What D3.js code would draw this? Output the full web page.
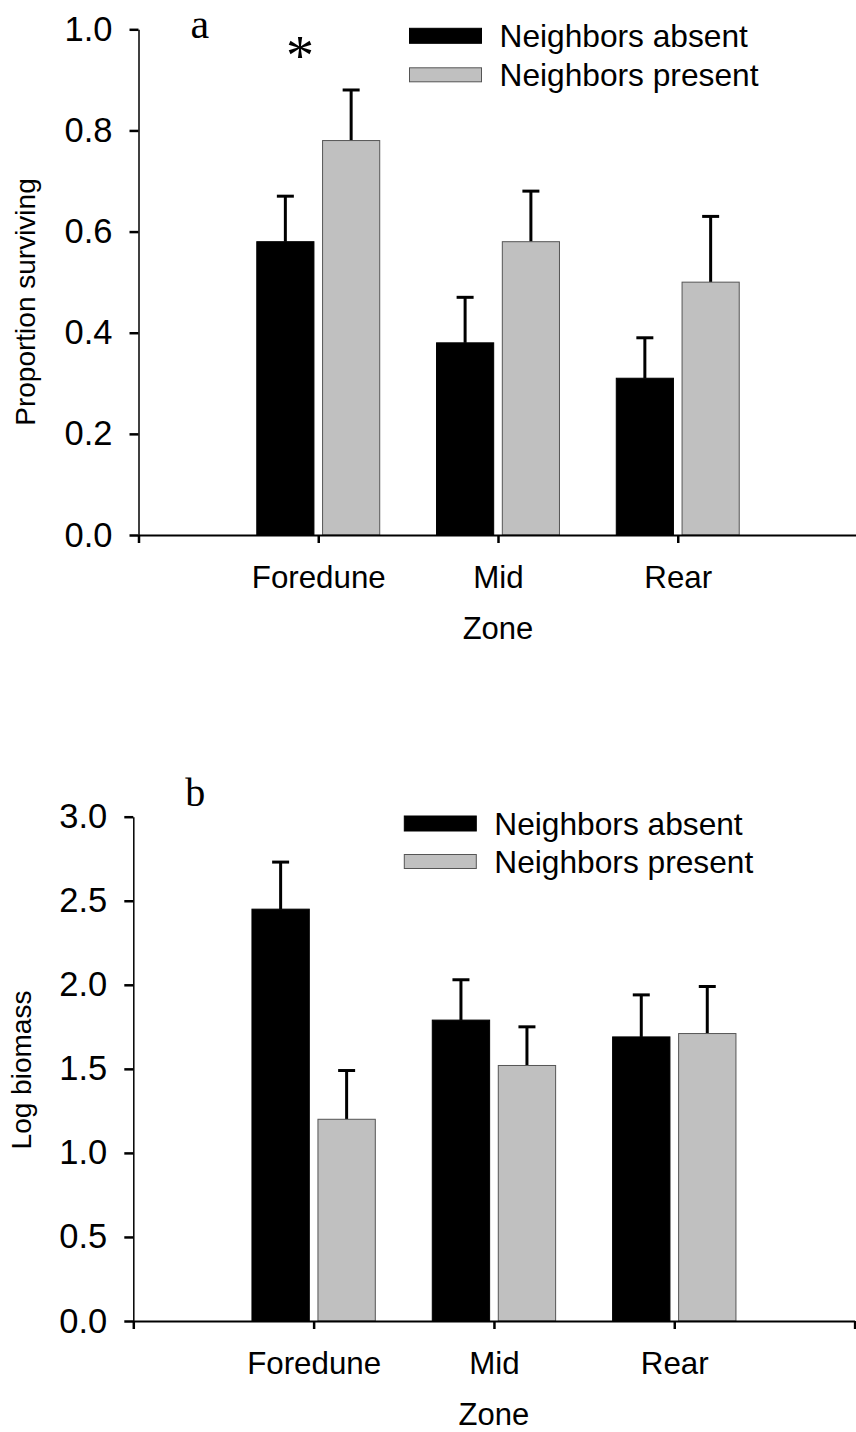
<!DOCTYPE html>
<html lang="en">
<head>
  <meta charset="UTF-8" />
  <title>Survival and biomass by zone</title>
  <style>
    body { margin: 0; padding: 0; background: #fff; }
    svg { display: block; }
    text { font-family: "Liberation Sans", Arial, sans-serif; fill: #000; }
    .serif { font-family: "Liberation Serif", "Times New Roman", serif; }
  </style>
  <script src="https://d3js.org/d3.v7.min.js"></script>
</head>
<body>
<svg id="chart" width="856" height="1432"></svg>

<script>
// data
const zones = ["Foredune", "Mid", "Rear"];
const seriesNames = ["Neighbors absent", "Neighbors present"];

const survAbsent = [0.58, 0.38, 0.31];
const survAbsentSE = [0.09, 0.09, 0.08];
const survPresent = [0.78, 0.58, 0.50];
const survPresentSE = [0.10, 0.10, 0.13];
const survTicks = [0, 0.2, 0.4, 0.6, 0.8, 1.0];

const bioAbsent = [2.45, 1.79, 1.69];
const bioAbsentSE = [0.28, 0.24, 0.25];
const bioPresent = [1.20, 1.52, 1.71];
const bioPresentSE = [0.29, 0.23, 0.28];
const bioTicks = [0, 0.5, 1.0, 1.5, 2.0, 2.5, 3.0];

const fills = ["#000", "#c0c0c0"];
const strokes = ["#000", "#555"];

const svg = d3.select("#chart");

function drawPanel(p) {
  const g = svg.append("g");
  const x = d3.scaleLinear().domain([0, 4]).range([p.left, p.right]);
  const y = d3.scaleLinear().domain([0, p.ymax]).range([p.bottom, p.top]);

  const barW = 0.318, gap = 0.024;
  const series = [
    { vals: p.absent, se: p.absentSE, off: -gap - barW },
    { vals: p.present, se: p.presentSE, off: gap }
  ];

  series.forEach((s, si) => {
    const data = zones.map((z, i) => ({ c: i + 1, v: s.vals[i], e: s.se[i] }));
    const cx = d => x(d.c + s.off + barW / 2);

    // error bars (upper only) behind the bars
    g.selectAll(null).data(data).enter().append("line")
      .attr("x1", cx).attr("x2", cx)
      .attr("y1", d => y(d.v)).attr("y2", d => y(d.v + d.e))
      .attr("stroke", "#000").attr("stroke-width", 3);
    g.selectAll(null).data(data).enter().append("line")
      .attr("x1", d => cx(d) - 8.5).attr("x2", d => cx(d) + 8.5)
      .attr("y1", d => y(d.v + d.e)).attr("y2", d => y(d.v + d.e))
      .attr("stroke", "#000").attr("stroke-width", 3);

    g.selectAll(null).data(data).enter().append("rect")
      .attr("x", d => x(d.c + s.off))
      .attr("width", x(barW) - x(0))
      .attr("y", d => y(d.v))
      .attr("height", d => y(0) - y(d.v))
      .attr("fill", fills[si])
      .attr("stroke", strokes[si])
      .attr("stroke-width", 1);
  });

  // y axis
  const yAx = g.append("g")
    .attr("transform", `translate(${p.left},0)`)
    .call(d3.axisLeft(y).tickValues(p.ticks).tickFormat(d3.format(".1f"))
      .tickSize(9).tickPadding(17).tickSizeOuter(0));
  yAx.select(".domain").attr("stroke-width", 1.5);
  yAx.selectAll(".tick line").attr("stroke-width", 2.5);
  yAx.selectAll("text").style("font-size", "34.5px")
    .style("font-family", '"Liberation Sans", Arial, sans-serif');

  // x axis
  const xAx = g.append("g")
    .attr("transform", `translate(0,${p.bottom})`)
    .call(d3.axisBottom(x).tickValues([0, 1, 2, 3, 4])
      .tickFormat(d => zones[d - 1] || "").tickSize(8).tickSizeOuter(0));
  xAx.select(".domain").attr("stroke-width", 2);
  xAx.selectAll(".tick line").attr("stroke-width", 2.5);
  xAx.selectAll("text").attr("y", 53).attr("dy", 0).style("font-size", "31.3px")
    .style("font-family", '"Liberation Sans", Arial, sans-serif');

  g.append("text")
    .attr("x", x(2)).attr("y", p.bottom + 104)
    .attr("text-anchor", "middle").style("font-size", "31px")
    .text("Zone");

  g.append("text")
    .attr("transform", `translate(${p.ylabX},${p.ylabY}) rotate(-90)`)
    .attr("text-anchor", "middle").style("font-size", "28px")
    .text(p.ylabel);

  g.append("text").attr("class", "serif")
    .attr("x", p.left + 52).attr("y", p.letterY)
    .style("font-size", p.letterSize + "px")
    .text(p.letter);

  // legend
  const lg = g.append("g").attr("transform", `translate(${p.left + 271},${p.legendY})`);
  seriesNames.forEach((name, i) => {
    lg.append("rect")
      .attr("x", 0).attr("y", i === 0 ? 0 : p.legendStep + 0.5)
      .attr("width", 72).attr("height", i === 0 ? 15 : 14)
      .attr("fill", fills[i]).attr("stroke", strokes[i]).attr("stroke-width", 1);
    lg.append("text")
      .attr("x", 90).attr("y", 18.5 + i * p.legendStep)
      .style("font-size", "31.7px")
      .text(name);
  });

  return { g, x, y };
}

const a = drawPanel({
  left: 138.5, right: 857.5, top: 29.3, bottom: 535, ymax: 1.0,
  ticks: survTicks, absent: survAbsent, absentSE: survAbsentSE,
  present: survPresent, presentSE: survPresentSE,
  ylabel: "Proportion surviving", ylabX: 35, ylabY: 302,
  letter: "a", letterY: 38, letterSize: 42,
  legendY: 28.3, legendStep: 39
});

// significance mark over the foredune pair
a.g.append("text").attr("class", "serif")
  .attr("x", a.x(0.898)).attr("y", a.y(0.91))
  .attr("text-anchor", "middle").style("font-size", "56px")
  .text("*");

drawPanel({
  left: 133.3, right: 854.6, top: 816.7, bottom: 1321, ymax: 3.0,
  ticks: bioTicks, absent: bioAbsent, absentSE: bioAbsentSE,
  present: bioPresent, presentSE: bioPresentSE,
  ylabel: "Log biomass", ylabX: 31, ylabY: 1070,
  letter: "b", letterY: 806, letterSize: 40,
  legendY: 816, legendStep: 38
});
</script>
</body>
</html>
